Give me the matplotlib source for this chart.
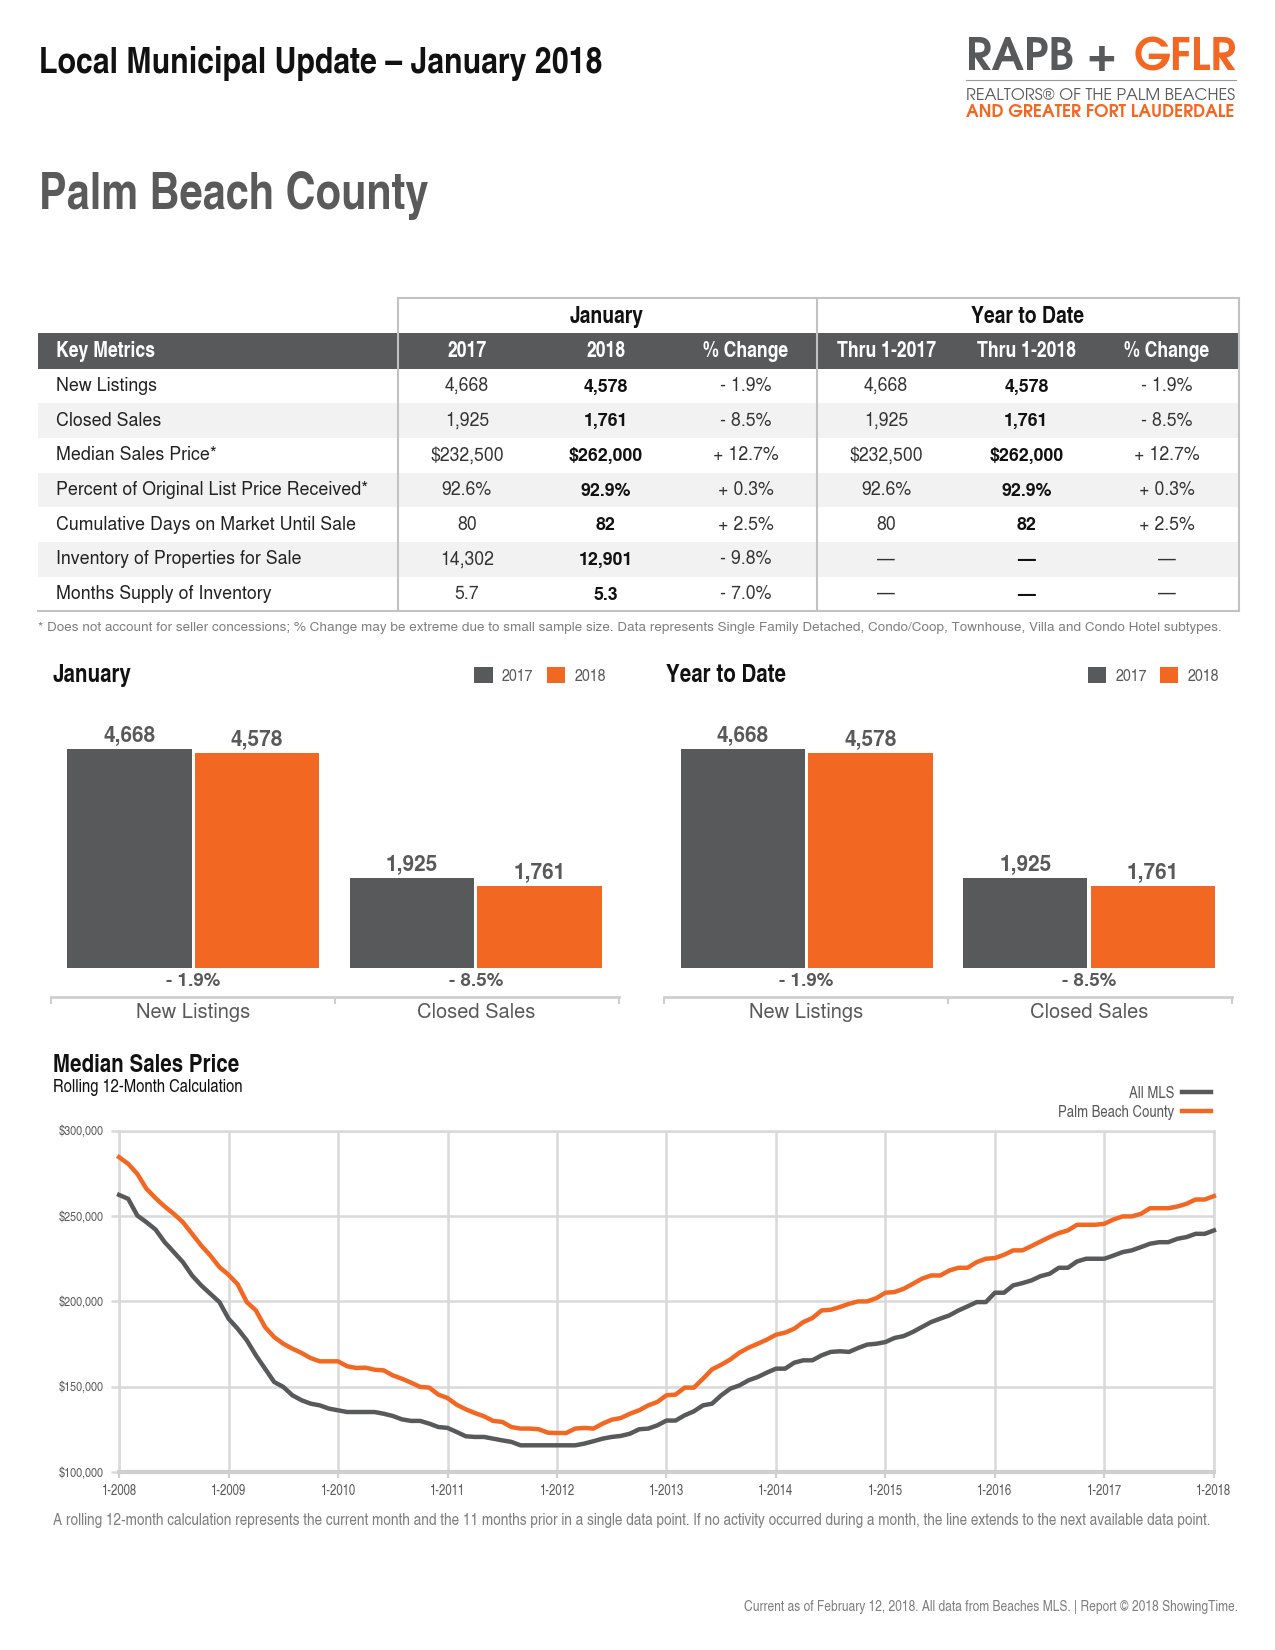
import numpy as np
import matplotlib
matplotlib.use("Agg")
import matplotlib.pyplot as plt
from matplotlib import font_manager as fm
from matplotlib.patches import Rectangle

# ---------------- data ----------------
table_columns = ["Key Metrics", "2017", "2018", "% Change", "Thru 1-2017", "Thru 1-2018", "% Change"]
metrics = ["New Listings", "Closed Sales", "Median Sales Price*",
           "Percent of Original List Price Received*", "Cumulative Days on Market Until Sale",
           "Inventory of Properties for Sale", "Months Supply of Inventory"]
jan_2017 = ["4,668", "1,925", "$232,500", "92.6%", "80", "14,302", "5.7"]
jan_2018 = ["4,578", "1,761", "$262,000", "92.9%", "82", "12,901", "5.3"]
jan_change = ["- 1.9%", "- 8.5%", "+ 12.7%", "+ 0.3%", "+ 2.5%", "- 9.8%", "- 7.0%"]
ytd_2017 = ["4,668", "1,925", "$232,500", "92.6%", "80", "\u2014", "\u2014"]
ytd_2018 = ["4,578", "1,761", "$262,000", "92.9%", "82", "\u2014", "\u2014"]
ytd_change = ["- 1.9%", "- 8.5%", "+ 12.7%", "+ 0.3%", "+ 2.5%", "\u2014", "\u2014"]

bar_categories = ["New Listings", "Closed Sales"]
jan_bars_2017 = [4668, 1925]
jan_bars_2018 = [4578, 1761]
jan_bars_change = ["- 1.9%", "- 8.5%"]
ytd_bars_2017 = [4668, 1925]
ytd_bars_2018 = [4578, 1761]
ytd_bars_change = ["- 1.9%", "- 8.5%"]

price_years = ["1-2008", "1-2009", "1-2010", "1-2011", "1-2012", "1-2013",
               "1-2014", "1-2015", "1-2016", "1-2017", "1-2018"]
# rolling 12-month median sales price, thousands of dollars, monthly 1-2008 .. 1-2018
all_mls = [262.3, 260.0, 250.2, 246.3, 242.0, 234.6, 228.8, 222.9, 215.1, 209.3, 204.4, 199.5, 189.8,
           183.9, 177.1, 168.3, 160.5, 152.7, 149.8, 144.9, 142.0, 140.0, 139.0, 137.1, 136.1,
           135.1, 135.1, 135.1, 135.1, 134.1, 132.8, 130.8, 129.9, 129.9, 128.3, 126.3, 125.8,
           123.4, 120.9, 120.5, 120.5, 119.5, 118.5, 117.6, 115.6, 115.6, 115.6, 115.6, 115.6,
           115.6, 115.6, 116.6, 118.0, 119.5, 120.5, 121.1, 122.4, 125.0, 125.4, 127.3, 130.1,
           130.1, 133.2, 135.5, 139.0, 140.0, 144.9, 148.8, 150.7, 153.7, 155.6, 158.2, 160.5,
           160.5, 164.0, 165.4, 165.4, 168.3, 170.3, 170.7, 170.3, 172.6, 174.6, 175.1, 176.1,
           178.5, 179.6, 182.0, 184.9, 187.8, 189.8, 191.7, 194.6, 197.0, 199.5, 199.5, 205.0,
           205.0, 209.3, 210.6, 212.2, 214.7, 216.1, 219.6, 219.6, 223.3, 224.9, 224.9, 224.9,
           226.8, 228.8, 229.8, 231.7, 233.7, 234.6, 234.6, 236.6, 237.6, 239.5, 239.5, 241.5]
palm_beach = [284.4, 280.5, 274.6, 265.9, 260.4, 255.5, 251.2, 246.3, 239.5, 232.7, 226.8, 220.0, 215.5,
              209.9, 199.5, 194.6, 184.9, 179.0, 175.1, 172.2, 169.7, 166.7, 164.8, 164.8, 164.8,
              161.9, 160.9, 161.1, 159.9, 159.5, 156.6, 154.6, 152.3, 149.8, 149.4, 145.3, 143.3,
              139.4, 136.7, 134.5, 132.6, 129.9, 129.3, 126.3, 125.4, 125.4, 125.0, 123.0, 122.8,
              122.8, 125.4, 125.8, 125.4, 128.3, 130.6, 131.6, 134.1, 136.1, 139.0, 141.0, 144.9,
              145.3, 149.4, 149.4, 154.6, 160.1, 162.8, 165.9, 169.9, 172.8, 175.1, 177.5, 180.4,
              181.6, 183.9, 187.8, 190.2, 194.6, 195.0, 196.6, 198.5, 199.9, 199.9, 201.8, 205.0,
              205.4, 207.3, 210.2, 213.2, 215.1, 215.1, 218.0, 219.6, 219.6, 222.9, 224.9, 225.3,
              227.2, 229.8, 229.8, 232.3, 235.0, 237.6, 239.9, 241.5, 244.8, 244.8, 244.8, 245.4,
              247.9, 249.7, 249.7, 251.2, 254.5, 254.5, 254.5, 255.5, 257.1, 259.6, 259.6, 261.6]

# ---------------- style ----------------
DARK = "#58595b"
ORANGE = "#f26722"
GRID = "#d9d9d9"
GRAY_TXT = "#595959"

names = {f.name for f in fm.fontManager.ttflist}


def pick(*cands):
    for c in cands:
        if c in names:
            return c
    return "DejaVu Sans"


SANS = pick("TeX Gyre Heros", "Liberation Sans")
NARROW = pick("TeX Gyre Heros Cn", "Roboto Condensed", "Liberation Sans Narrow", "Liberation Sans")
LOGO = pick("TeX Gyre Adventor", "Liberation Sans")

W, H = 1210.0, 1566.0   # layout units (page scaled)

fig = plt.figure(figsize=(12.75, 16.5), dpi=100)
page = fig.add_axes([0, 0, 1, 1])
page.set_xlim(0, W)
page.set_ylim(H, 0)
page.axis("off")


def box(x0, y0, x1, y1):
    return [x0 / W, 1 - y1 / H, (x1 - x0) / W, (y1 - y0) / H]


def text_width(t):
    r = fig.canvas.get_renderer()
    return t.get_window_extent(r).width * W / fig.bbox.width


def fit_width(t, width):
    t.set_fontsize(t.get_fontsize() * width / text_width(t))


# ---------------- header ----------------
t = page.text(37, 69, "Local Municipal Update \u2013 January 2018", family=NARROW, weight="bold",
              size=26.5, color="#111111", va="baseline")
fit_width(t, 535)
t = page.text(37, 198, "Palm Beach County", family=NARROW, weight="bold", size=37,
              color="#5a5a5a", va="baseline")
fit_width(t, 370)

# logo: "RAPB +" then "GFLR", scaled to span 917..1173
t1 = page.text(917, 66.5, "RAPB +", family=LOGO, weight="bold", size=28, color=DARK, va="baseline")
t2 = page.text(1000, 66.5, "GFLR", family=LOGO, weight="bold", size=28, color=ORANGE, va="baseline")
gap = 15
k = (256 - gap) / (text_width(t1) + text_width(t2))
t1.set_fontsize(28 * k)
t2.set_fontsize(28 * k)
t2.set_x(917 + text_width(t1) + gap)
page.plot([917, 1173], [76, 76], color="#9a9a9a", lw=0.8)
t = page.text(917, 95, "REALTORS\u00ae OF THE PALM BEACHES", family=LOGO, size=10.3, color=DARK, va="baseline")
fit_width(t, 256)
t = page.text(917, 111, "AND GREATER FORT LAUDERDALE", family=LOGO, weight="bold", size=10.3,
              color=ORANGE, va="baseline")
fit_width(t, 256)

# ---------------- table ----------------
col_x = [53, 443, 575, 708, 841, 974, 1107]
row_top, row_h = 350, 32.9
page.add_patch(Rectangle((36, 316), 1140, 34, color=DARK, lw=0))
for i in range(len(metrics)):
    y0 = row_top + i * row_h
    if i % 2 == 1:
        page.add_patch(Rectangle((36, y0), 1140, row_h, color="#f2f2f2", lw=0))
for x in (378, 775, 1176):
    page.plot([x, x], [283, 580], color="#c2c2c2", lw=1.5)
page.plot([378, 1176], [283, 283], color="#c2c2c2", lw=1.5)
page.plot([36, 1176], [580, 580], color="#c2c2c2", lw=1.5)

page.text(576, 301, "January", family=NARROW, weight="bold", size=17, color="#111111", ha="center", va="center")
page.text(975, 301, "Year to Date", family=NARROW, weight="bold", size=17, color="#111111", ha="center", va="center")
for j, c in enumerate(table_columns):
    page.text(col_x[j], 334, c, family=NARROW, weight="bold", size=15.5, color="white",
              ha="left" if j == 0 else "center", va="center")

columns = [jan_2017, jan_2018, jan_change, ytd_2017, ytd_2018, ytd_change]
for i, m in enumerate(metrics):
    yc = row_top + (i + 0.5) * row_h
    page.text(col_x[0], yc, m, family=SANS, size=12.8, color="#222222", va="center")
    for j, col in enumerate(columns):
        bold = j in (1, 4)
        page.text(col_x[j + 1], yc + (1 if bold else 0), col[i], family=SANS, size=12.8,
                  weight="bold" if bold else "normal", color="#111111" if bold else "#333333",
                  ha="center", va="center")

t = page.text(36, 596, "* Does not account for seller concessions; % Change may be extreme due to small sample size. "
              "Data represents Single Family Detached, Condo/Coop, Townhouse, Villa and Condo Hotel subtypes.",
              family=SANS, size=9, color="#7f7f7f", va="center")
fit_width(t, 1127)


# ---------------- bar panels ----------------
def bar_panel(x0, title, v17, v18, changes):
    ax = fig.add_axes(box(x0, 680, x0 + 539, 919))
    pos = np.arange(len(bar_categories))
    off, w = 0.2257, 0.4403
    ax.bar(pos - off, v17, w, color=DARK, label="2017")
    ax.bar(pos + off, v18, w, color=ORANGE, label="2018")
    ax.set_xlim(-0.5056, 1.5056)
    ax.set_ylim(0, 5364)
    for p, a, b, c in zip(pos, v17, v18, changes):
        for xx, v in ((p - off, a), (p + off, b)):
            ax.annotate(f"{v:,}", (xx, v), xytext=(0, 2), textcoords="offset points", ha="center",
                        va="bottom", family=SANS, weight="bold", size=15, color=GRAY_TXT)
        ax.annotate(c, (p, 0), xytext=(0, -9.5), textcoords="offset points", ha="center", va="center",
                    family=SANS, weight="bold", size=13.5, color=GRAY_TXT, annotation_clip=False)
    for s in ("left", "right", "top"):
        ax.spines[s].set_visible(False)
    ax.spines["bottom"].set_position(("outward", 21))
    ax.spines["bottom"].set_color("#cfcfcf")
    ax.spines["bottom"].set_linewidth(2)
    ax.set_yticks([])
    ax.set_xticks([-0.5056, 0.5, 1.5056], ["", "", ""])
    ax.tick_params(axis="x", which="major", length=5, width=1.5, color="#cfcfcf")
    ax.set_xticks(pos, bar_categories, minor=True)
    ax.tick_params(axis="x", which="minor", length=0, pad=4, labelsize=14.5, labelcolor=GRAY_TXT)
    for lab in ax.get_xticklabels(minor=True):
        lab.set_family(SANS)
    ax.patch.set_alpha(0)
    leg = ax.legend(loc="center right", bbox_to_anchor=(0.99, 1.163), ncol=2, frameon=False,
                    borderaxespad=0, handlelength=1.05, handleheight=1.05, handletextpad=0.55,
                    columnspacing=0.75, prop={"family": NARROW, "size": 12.5})
    for tx in leg.get_texts():
        tx.set_color(GRAY_TXT)
    page.text(x0 + 2, 641, title, family=NARROW, weight="bold", size=18, color="#111111", va="center")
    return ax


bar_panel(48, "January", jan_bars_2017, jan_bars_2018, jan_bars_change)
bar_panel(630, "Year to Date", ytd_bars_2017, ytd_bars_2018, ytd_bars_change)

# ---------------- line chart ----------------
page.text(50, 1011, "Median Sales Price", family=NARROW, weight="bold", size=18, color="#111111", va="center")
page.text(50, 1032, "Rolling 12-Month Calculation", family=NARROW, size=13, color="#111111", va="center")

ax = fig.add_axes(box(113, 1073, 1152, 1397))
months = np.arange(len(all_mls))
ax.plot(months, np.array(all_mls) * 1000, color=DARK, lw=3.2, label="All MLS", clip_on=False, zorder=3)
ax.plot(months, np.array(palm_beach) * 1000, color=ORANGE, lw=3.2, label="Palm Beach County",
        clip_on=False, zorder=3)
ax.set_xlim(0, 120)
ax.set_ylim(100000, 300000)
ax.set_axisbelow(True)
ax.grid(True, color=GRID, lw=1.8)
ax.set_xticks(np.arange(0, 121, 12), price_years)
yt = np.arange(100000, 300001, 50000)
ax.set_yticks(yt, [f"${v:,}" for v in yt])
for s in ("left", "right", "top"):
    ax.spines[s].set_color(GRID)
    ax.spines[s].set_linewidth(1.8)
ax.spines["bottom"].set_color("#cfcfcf")
ax.spines["bottom"].set_linewidth(3)
ax.tick_params(axis="y", length=6, width=1.8, color=GRID, pad=5, labelsize=9.5, labelcolor=GRAY_TXT)
ax.tick_params(axis="x", length=4.5, width=1.5, color="#cfcfcf", pad=4, labelsize=10, labelcolor=GRAY_TXT)
for lab in ax.get_xticklabels() + ax.get_yticklabels():
    lab.set_family(NARROW)
leg = ax.legend(loc="lower right", bbox_to_anchor=(1.003, 1.013), frameon=False, markerfirst=False,
                borderaxespad=0, handlelength=1.8, handletextpad=0.5, labelspacing=0.25,
                prop={"family": NARROW, "size": 11.5})
for tx in leg.get_texts():
    tx.set_color(GRAY_TXT)

t = page.text(50, 1443, "A rolling 12-month calculation represents the current month and the 11 months prior in a single "
              "data point. If no activity occurred during a month, the line extends to the next available data point.",
              family=NARROW, size=11, color="#7f7f7f", va="center")
fit_width(t, 1107)
t = page.text(1175, 1525, "Current as of February 12, 2018. All data from Beaches MLS. | Report \u00a9 2018 ShowingTime.",
              family=NARROW, size=9.5, color="#7f7f7f", va="center", ha="right")
fit_width(t, 469)

fig.savefig("out.png", dpi=100, facecolor="white")
